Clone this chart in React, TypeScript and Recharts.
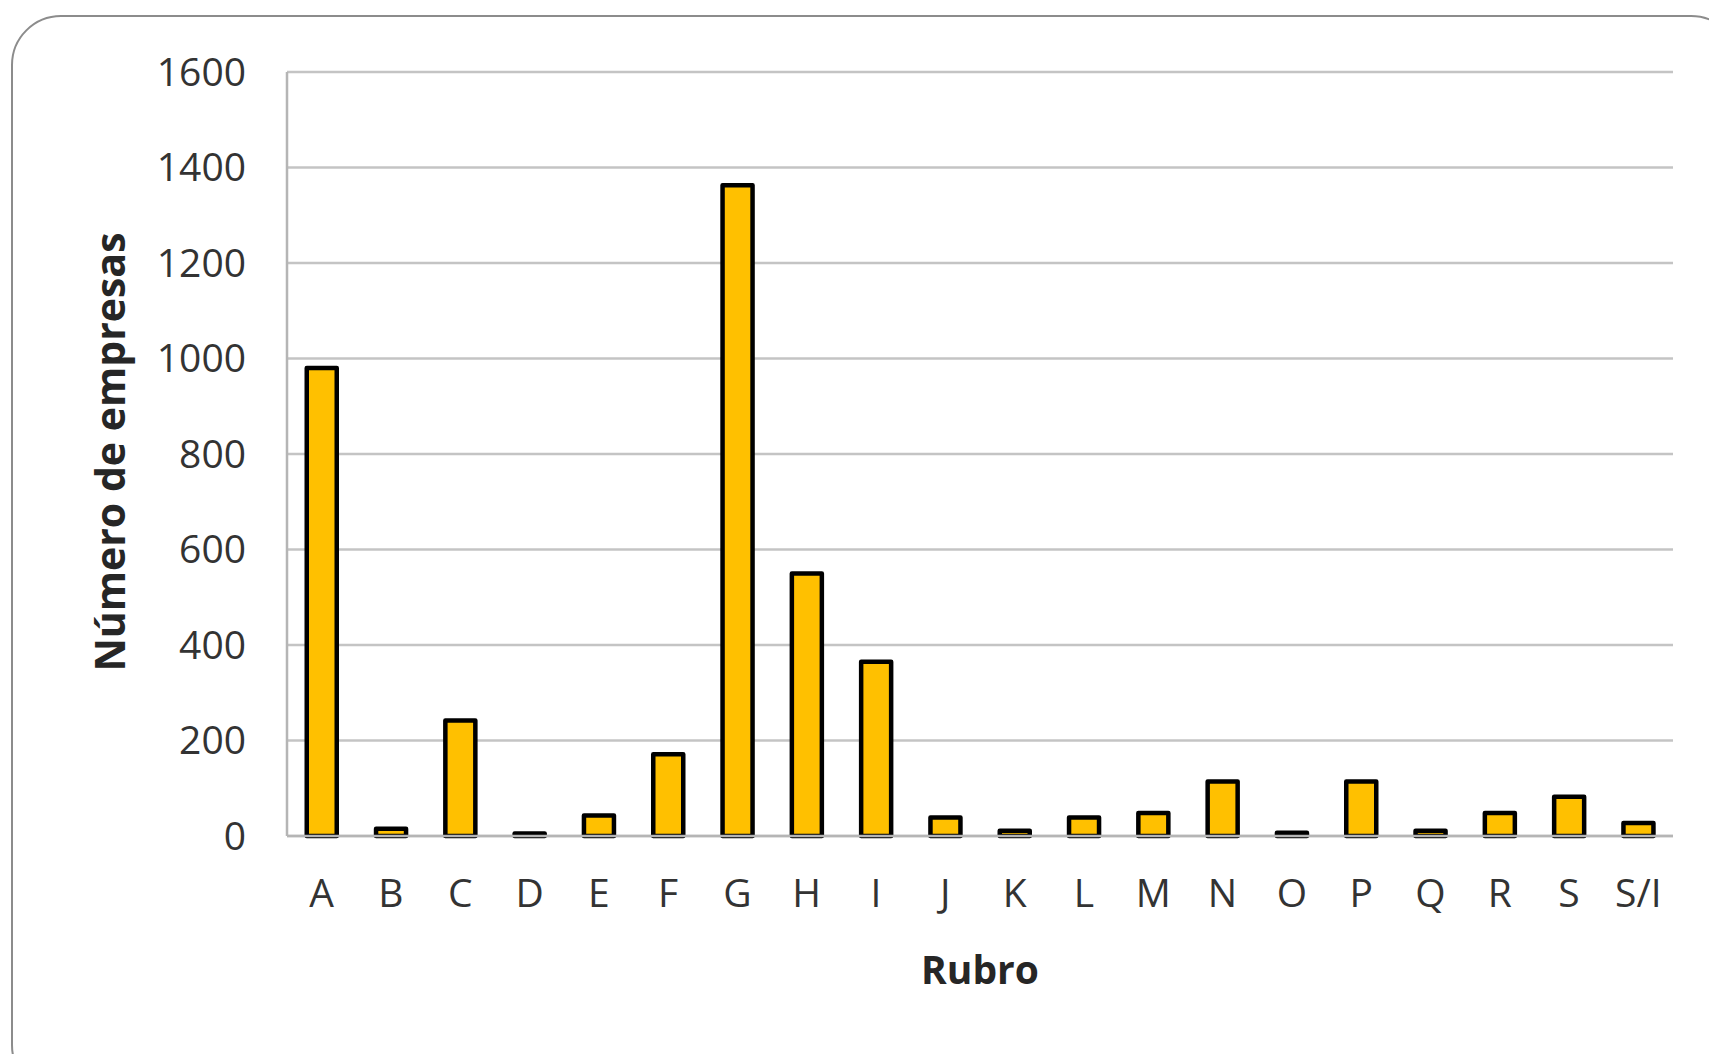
import { Bar, BarChart, CartesianGrid, XAxis, YAxis } from "recharts"

const rubros = ["A", "B", "C", "D", "E", "F", "G", "H", "I", "J", "K", "L", "M", "N", "O", "P", "Q", "R", "S", "S/I"]
const empresas = [980, 15, 242, 5, 43, 171, 1363, 550, 365, 39, 11, 39, 48, 114, 7, 114, 11, 48, 82, 27]
const yTicks = [0, 200, 400, 600, 800, 1000, 1200, 1400, 1600]

const data = rubros.map((rubro, i) => ({ rubro, empresas: empresas[i] }))

const font = "'Open Sans', sans-serif"

function YTitle({ viewBox }: any) {
  const cx = 109
  const cy = viewBox.y + viewBox.height / 2 - 2
  return (
    <text
      x={cx}
      y={cy}
      transform={`rotate(-90 ${cx} ${cy})`}
      textAnchor="middle"
      dominantBaseline="central"
      fontFamily={font}
      fontWeight={700}
      fontSize={41}
      fill="#262626"
    >
      Número de empresas
    </text>
  )
}

function XTitle({ viewBox }: any) {
  return (
    <text
      x={viewBox.x + viewBox.width / 2}
      y={968}
      textAnchor="middle"
      dominantBaseline="central"
      fontFamily={font}
      fontWeight={700}
      fontSize={39}
      fill="#262626"
    >
      Rubro
    </text>
  )
}

export default function App() {
  return (
    <div style={{ position: "absolute", left: 0, top: 0, width: 1709, height: 1054, overflow: "hidden", background: "#fff" }}>
      <div
        style={{
          position: "absolute",
          left: 11,
          top: 15,
          width: 1730,
          height: 1080,
          border: "2.5px solid #8c8c8c",
          borderRadius: 50,
          boxSizing: "border-box",
        }}
      />
      <BarChart
        width={1709}
        height={1054}
        data={data}
        margin={{ top: 72, right: 36, bottom: 0, left: 0 }}
        barCategoryGap="28.5%"
        style={{ position: "absolute", left: 0, top: 0 }}
      >
        <CartesianGrid vertical={false} stroke="#c4c4c4" strokeWidth={2.5} />
        <XAxis
          dataKey="rubro"
          height={218}
          interval={0}
          axisLine={{ stroke: "#b5b5b5", strokeWidth: 2.5 }}
          tickLine={false}
          tickSize={0}
          tickMargin={43}
          tick={{ fontFamily: font, fontSize: 39, fill: "#333" }}
          label={<XTitle />}
        />
        <YAxis
          width={287}
          domain={[0, 1600]}
          ticks={yTicks}
          axisLine={{ stroke: "#b5b5b5", strokeWidth: 2.5 }}
          tickLine={false}
          tickSize={0}
          tickMargin={41}
          tick={{ fontFamily: font, fontSize: 39, fill: "#333" }}
          label={<YTitle />}
        />
        <Bar
          dataKey="empresas"
          fill="#FFC000"
          stroke="#000"
          strokeWidth={4.5}
          strokeLinejoin="round"
          isAnimationActive={false}
        />
      </BarChart>
    </div>
  )
}
